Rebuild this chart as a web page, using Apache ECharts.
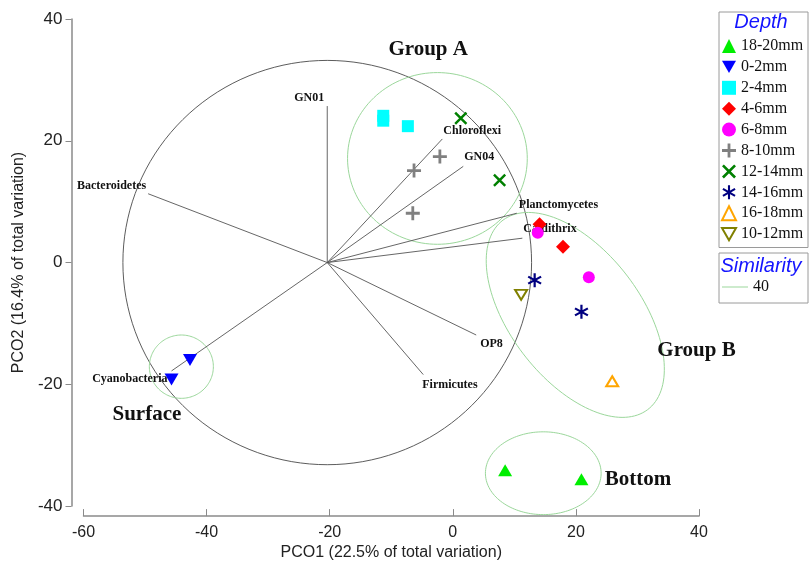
<!DOCTYPE html>
<html><head><meta charset="utf-8">
<script src="https://cdn.jsdelivr.net/npm/echarts@6/dist/echarts.min.js"></script>
<style>html,body{margin:0;padding:0;background:#fff}#c{width:810px;height:566px}</style>
</head><body><div id="c"></div>
<script>
// ---------- data ----------
const X_TICKS = [-60, -40, -20, 0, 20, 40];
const Y_TICKS = [-40, -20, 0, 20, 40];
const X_NAME = 'PCO1 (22.5% of total variation)';
const Y_NAME = 'PCO2 (16.4% of total variation)';

const DEPTHS = ['18-20mm', '0-2mm', '2-4mm', '4-6mm', '6-8mm', '8-10mm', '12-14mm', '14-16mm', '16-18mm', '10-12mm'];
const PTS_18_20 = [[8.5, -34.1], [20.9, -35.6]];
const PTS_0_2 = [[-42.7, -16.0], [-45.7, -19.2]];
const PTS_2_4 = [[-11.3, 24.1], [-11.3, 23.3], [-7.3, 22.4]];
const PTS_4_6 = [[14.1, 6.3], [17.9, 2.6]];
const PTS_6_8 = [[13.8, 4.9], [22.1, -2.4]];
const PTS_8_10 = [[-2.1, 17.4], [-6.3, 15.1], [-6.5, 8.1]];
const PTS_12_14 = [[1.3, 23.7], [7.6, 13.5]];
const PTS_14_16 = [[13.3, -2.9], [20.9, -8.1]];
const PTS_16_18 = [[25.9, -19.5]];
const PTS_10_12 = [[11.1, -5.3]];

const VECTOR_ORIGIN = [-20.4, 0];
const VECTOR_NAMES = ['GN01', 'Bacteroidetes', 'Cyanobacteria', 'Chloroflexi', 'GN04', 'Planctomycetes', 'Caldithrix', 'OP8', 'Firmicutes'];
const VECTOR_ENDS = [[-20.4, 25.7], [-49.5, 11.3], [-45.7, -17.8], [-1.7, 20.3], [1.7, 15.8], [10.4, 8.1], [11.3, 4.0], [3.8, -11.9], [-4.8, -18.4]];
const CIRCLE_RADIUS = 33.2;

const CLUSTER_NAMES = ['Group A', 'Group B', 'Surface', 'Bottom'];
// centre x, centre y, radius x, radius y, rotation (deg)
const CLUSTER_ELLIPSES = [[-2.5, 17.1, 14.6, 14.1, 0], [19.9, -8.6, 19.5, 10.6, -53], [-44.1, -17.1, 5.2, 5.2, 0], [14.7, -34.6, 9.4, 6.8, 0]];
const CLUSTER_LABEL_POS = [[-4.0, 35.0], [39.6, -14.5], [-49.7, -24.9], [30.1, -35.6]];
const SIMILARITY = '40';

// ---------- styles ----------
const SERIF = '"Liberation Serif", "Times New Roman", serif';
const SANS = '"Liberation Sans", Arial, sans-serif';
const VEC_LABEL_STYLE = {
  GN01: { dx: -18, dy: -8, align: 'center' },
  Bacteroidetes: { dx: -2, dy: -8, align: 'right' },
  Cyanobacteria: { dx: -4, dy: 8, align: 'right' },
  Chloroflexi: { dx: 1, dy: -8, align: 'left' },
  GN04: { dx: 1, dy: -9, align: 'left' },
  Planctomycetes: { dx: 2, dy: -8, align: 'left' },
  Caldithrix: { dx: 1, dy: -9, align: 'left' },
  OP8: { dx: 4, dy: 9, align: 'left' },
  Firmicutes: { dx: -1, dy: 10, align: 'left' }
};
const SYM_DOWN = 'path://M-5,-4.33 L5,-4.33 L0,4.33 Z';
const SYM_PLUS = 'path://M-1.2,-6 L1.2,-6 L1.2,-1.2 L6,-1.2 L6,1.2 L1.2,1.2 L1.2,6 L-1.2,6 L-1.2,1.2 L-6,1.2 L-6,-1.2 L-1.2,-1.2 Z';
const SYM_X = 'path://M-4.4,-6 L6,4.4 L4.4,6 L-6,-4.4 Z M4.4,-6 L6,-4.4 L-4.4,6 L-6,4.4 Z';
const SYM_AST = 'path://M-0.9,-6 L0.9,-6 L0.9,6 L-0.9,6 Z M-5.65,-2.22 L-4.75,-3.78 L5.65,2.22 L4.75,3.78 Z M-4.75,3.78 L-5.65,2.22 L4.75,-3.78 L5.65,-2.22 Z';

function scatter(name, data, symbol, size, color, hollow) {
  return {
    type: 'scatter', name: name, data: data, symbol: symbol, symbolSize: size, z: 5,
    itemStyle: hollow ? { color: '#fff', borderColor: color, borderWidth: 2, opacity: 1 }
                      : { color: color, opacity: 1 },
    emphasis: { disabled: true }
  };
}

function ellipsePoints(api, cx, cy, rx, ry, angDeg) {
  const a = angDeg * Math.PI / 180, pts = [];
  for (let k = 0; k <= 144; k++) {
    const t = k / 144 * 2 * Math.PI;
    const ux = rx * Math.cos(t), uy = ry * Math.sin(t);
    pts.push(api.coord([cx + ux * Math.cos(a) - uy * Math.sin(a), cy + ux * Math.sin(a) + uy * Math.cos(a)]));
  }
  return pts;
}

const chart = echarts.init(document.getElementById('c'), null, { renderer: 'canvas' });
const option = {
  animation: false,
  backgroundColor: '#fff',
  grid: { left: 83.5, right: 111, top: 19, bottom: 55, containLabel: false },
  xAxis: {
    type: 'value', min: X_TICKS[0], max: X_TICKS[X_TICKS.length - 1], interval: X_TICKS[1] - X_TICKS[0],
    offset: 10,
    axisLine: { show: true, onZero: false, lineStyle: { color: '#8a8a8a', width: 1.5 } },
    axisTick: { show: true, inside: true, length: 7, lineStyle: { color: '#8a8a8a', width: 1 } },
    axisLabel: { color: '#222', fontSize: 16, fontFamily: SANS, margin: 8 },
    splitLine: { show: false },
    name: X_NAME, nameLocation: 'middle', nameGap: 25,
    nameTextStyle: { color: '#222', fontSize: 16, fontFamily: SANS, verticalAlign: 'top' }
  },
  yAxis: {
    type: 'value', min: Y_TICKS[0], max: Y_TICKS[Y_TICKS.length - 1], interval: Y_TICKS[1] - Y_TICKS[0],
    offset: 12,
    axisLine: { show: true, onZero: false, lineStyle: { color: '#8a8a8a', width: 1.5 } },
    axisTick: { show: true, inside: false, length: 6, lineStyle: { color: '#8a8a8a', width: 1 } },
    axisLabel: { color: '#222', fontSize: 17, fontFamily: SANS, margin: 9 },
    splitLine: { show: false },
    name: Y_NAME, nameLocation: 'middle', nameGap: 42,
    nameTextStyle: { color: '#222', fontSize: 16, fontFamily: SANS }
  },
  legend: [{
    data: DEPTHS, orient: 'vertical', left: 721, top: 38, itemWidth: 14, itemHeight: 14, itemGap: 4.9,
    padding: 0, selectedMode: false,
    textStyle: { fontFamily: SERIF, fontSize: 16, color: '#111' }
  }, {
    data: [{ name: SIMILARITY, icon: 'rect' }], orient: 'vertical', left: 722, top: 279, itemWidth: 26, itemHeight: 1,
    padding: 0, selectedMode: false,
    textStyle: { fontFamily: SERIF, fontSize: 16, color: '#111' }
  }],
  graphic: [
    { type: 'rect', left: 716.5, top: 9.5, shape: { width: 89, height: 235.5 }, style: { fill: 'none', stroke: '#9a9a9a', lineWidth: 1 }, z: 10 },
    { type: 'rect', left: 716.5, top: 250.5, shape: { width: 89, height: 50 }, style: { fill: 'none', stroke: '#9a9a9a', lineWidth: 1 }, z: 10 },
    { type: 'text', x: 761, y: 22, style: { text: 'Depth', align: 'center', verticalAlign: 'middle', font: 'italic 20px ' + SANS, fill: '#1414ff' }, z: 10 },
    { type: 'text', x: 761, y: 266, style: { text: 'Similarity', align: 'center', verticalAlign: 'middle', font: 'italic 20px ' + SANS, fill: '#1414ff' }, z: 10 }
  ],
  series: [
    {
      type: 'custom', name: 'circle', silent: true, z: 1,
      data: [[VECTOR_ORIGIN[0], VECTOR_ORIGIN[1], CIRCLE_RADIUS]],
      renderItem: function (params, api) {
        return { type: 'polyline', shape: { points: ellipsePoints(api, api.value(0), api.value(1), api.value(2), api.value(2), 0) },
                 style: { stroke: '#4a4a4a', lineWidth: 0.9, fill: 'none' } };
      }
    },
    {
      type: 'custom', name: SIMILARITY, silent: true, z: 2,
      itemStyle: { color: '#9bd79b' },
      data: CLUSTER_ELLIPSES,
      renderItem: function (params, api) {
        return { type: 'polyline', shape: { points: ellipsePoints(api, api.value(0), api.value(1), api.value(2), api.value(3), api.value(4)) },
                 style: { stroke: '#9bd79b', lineWidth: 1, fill: 'none' } };
      }
    },
    {
      type: 'custom', name: 'vectors', silent: true, z: 3,
      data: VECTOR_ENDS.map(function (e, i) { return [e[0], e[1], i]; }),
      renderItem: function (params, api) {
        const o = api.coord(VECTOR_ORIGIN);
        const e = api.coord([api.value(0), api.value(1)]);
        const name = VECTOR_NAMES[api.value(2)];
        const s = VEC_LABEL_STYLE[name];
        return { type: 'group', children: [
          { type: 'line', shape: { x1: o[0], y1: o[1], x2: e[0], y2: e[1] }, style: { stroke: '#555', lineWidth: 0.9 } },
          { type: 'text', x: e[0] + s.dx, y: e[1] + s.dy, style: { text: name, align: s.align, verticalAlign: 'middle', font: 'bold 12px ' + SERIF, fill: '#111' } }
        ] };
      }
    },
    {
      type: 'custom', name: 'clusterLabels', silent: true, z: 6,
      data: CLUSTER_LABEL_POS.map(function (p, i) { return [p[0], p[1], i]; }),
      renderItem: function (params, api) {
        const c = api.coord([api.value(0), api.value(1)]);
        return { type: 'text', x: c[0], y: c[1], style: { text: CLUSTER_NAMES[api.value(2)], align: 'center', verticalAlign: 'middle', font: 'bold 21px ' + SERIF, fill: '#111' } };
      }
    },
    scatter('18-20mm', PTS_18_20, 'triangle', [14, 12], '#00ee00'),
    scatter('0-2mm', PTS_0_2, SYM_DOWN, [14, 12], '#0000ff'),
    scatter('2-4mm', PTS_2_4, 'rect', 12, '#00ffff'),
    scatter('4-6mm', PTS_4_6, 'diamond', 14, '#ff0000'),
    scatter('6-8mm', PTS_6_8, 'circle', 12, '#ff00ff'),
    scatter('8-10mm', PTS_8_10, SYM_PLUS, 14, '#808080'),
    scatter('12-14mm', PTS_12_14, SYM_X, 13, '#008000'),
    scatter('14-16mm', PTS_14_16, SYM_AST, 14, '#000080'),
    scatter('16-18mm', PTS_16_18, 'triangle', [12, 10], '#ffa500', true),
    scatter('10-12mm', PTS_10_12, SYM_DOWN, [12, 10], '#808000', true)
  ]
};
chart.setOption(option);
</script>
</body></html>
